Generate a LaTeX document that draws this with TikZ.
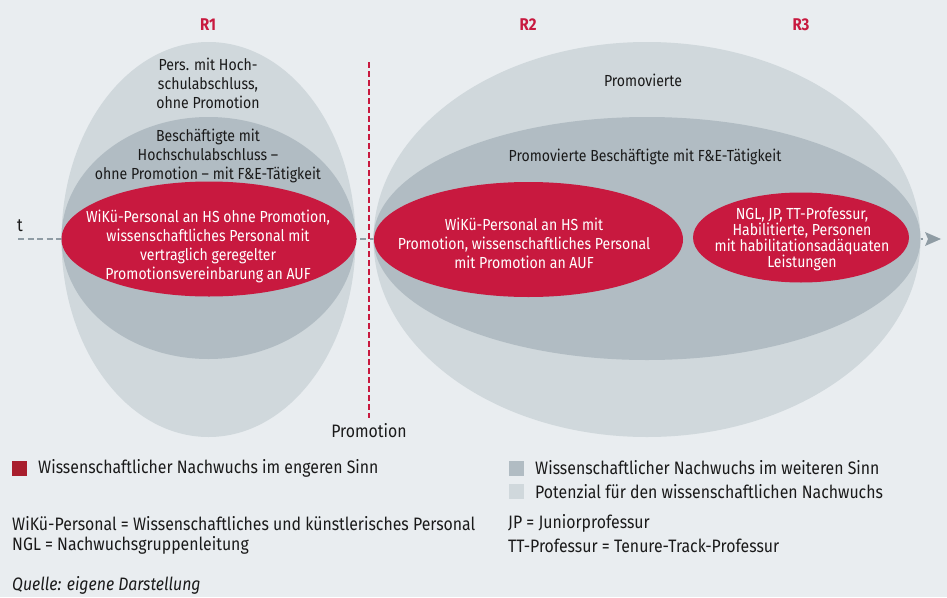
\documentclass[tikz,border=0pt]{standalone}
\usepackage{fontspec}
\setmainfont[FakeStretch=0.88]{Fira Sans}
\usetikzlibrary{shapes.geometric}
\definecolor{bgc}{HTML}{E9EDF0}
\definecolor{outerc}{HTML}{D0D8DC}
\definecolor{midc}{HTML}{B1BCC3}
\definecolor{redc}{HTML}{C8193F}
\definecolor{legred}{HTML}{A81E2D}
\definecolor{axisc}{HTML}{8F9CA4}
\definecolor{txtc}{HTML}{1A1A1A}
\tikzset{
  blob/.style={ellipse, inner sep=0pt, outer sep=0pt, draw=none},
  difftext/.style={font=\fontsize{16}{19}\selectfont, text=txtc, align=center, inner sep=0pt},
  redtext/.style={font=\fontsize{16}{19}\selectfont, text=white, align=center, inner sep=0pt},
  legtext/.style={font=\fontsize{18}{20}\selectfont, text=txtc, anchor=west, inner sep=0pt},
  rlabel/.style={font=\fontsize{17}{20}\selectfont\bfseries, text=redc, inner sep=0pt},
  legbox/.style={minimum size=15pt, inner sep=0pt, anchor=west}
}
\begin{document}
\begin{tikzpicture}[x=1pt, y=-1pt]
\fill[bgc] (0,0) rectangle (947,597);
\useasboundingbox (0,0) rectangle (947,597);
% axis
\coordinate (tstart) at (18,239);
\coordinate (tend) at (923,239);
\draw[axisc, line width=2.6pt, dash pattern=on 6pt off 3.5pt] (tstart) -- (tend);
\fill[axisc] (941,239) -- (925,232) -- (928,239) -- (925,246) -- cycle;
% left ellipses
\node[blob, fill=outerc, minimum width=294pt, minimum height=395pt] (L1) at (208.5,239.5) {};
\node[blob, fill=midc, minimum width=294pt, minimum height=242pt] (L2) at (208.5,238) {};
\node[blob, fill=redc, minimum width=295pt, minimum height=115pt] (L3) at (209,239) {};
% right ellipses
\node[blob, fill=outerc, minimum width=547pt, minimum height=395pt] (R1e) at (647,239.5) {};
\node[blob, fill=midc, minimum width=547pt, minimum height=243pt] (R2e) at (647,238.5) {};
\node[blob, fill=redc, minimum width=309pt, minimum height=115pt] (R3e) at (528.5,239.5) {};
\node[blob, fill=redc, minimum width=216pt, minimum height=90pt] (R4e) at (801,237.5) {};
% promotion line
\coordinate (ptop) at (369,62);
\coordinate (pbot) at (369,418);
\draw[redc, line width=1.6pt, dash pattern=on 6pt off 3pt] (ptop) -- (pbot);
\node[font=\fontsize{18}{20}\selectfont, text=txtc, inner sep=0pt] (prom) at (369,431) {Promotion};
\node[font=\fontsize{18}{20}\selectfont, text=txtc, inner sep=0pt] (tlab) at (20,226) {t};
% region labels
\node[rlabel] (r1) at (208,25) {R1};
\node[rlabel] (r2) at (528,25) {R2};
\node[rlabel] (r3) at (801,25) {R3};
% texts
\node[difftext] (tL1) at (208,83) {Pers. mit Hoch-\\schulabschluss,\\ohne Promotion};
\node[difftext] (tL2) at (208,156) {Beschäftigte mit\\Hochschulabschluss –\\ohne Promotion – mit F\&E-Tätigkeit};
\node[redtext] (tL3) at (208,246) {WiKü-Personal an HS ohne Promotion,\\wissenschaftliches Personal mit\\vertraglich geregelter\\Promotionsvereinbarung an AUF};
\node[difftext] (tR1) at (643,80) {Promovierte};
\node[difftext] (tR2) at (645,157) {Promovierte Beschäftigte mit F\&E-Tätigkeit};
\node[redtext] (tR3) at (524,243.5) {WiKü-Personal an HS mit\\Promotion, wissenschaftliches Personal\\mit Promotion an AUF};
\node[redtext, font=\fontsize{16}{16}\selectfont] (tR4) at (802,239.5) {NGL, JP, TT-Professur,\\Habilitierte, Personen\\mit habilitationsadäquaten\\Leistungen};
% legend
\node[legbox, fill=legred] (k1) at (12,468) {};
\node[legtext] (k1t) at (38,468) {Wissenschaftlicher Nachwuchs im engeren Sinn};
\node[legbox, fill=midc] (k2) at (509,468) {};
\node[legtext] (k2t) at (535,468) {Wissenschaftlicher Nachwuchs im weiteren Sinn};
\node[legbox, fill=outerc] (k3) at (509,491.5) {};
\node[legtext] (k3t) at (535,491.5) {Potenzial für den wissenschaftlichen Nachwuchs};
\node[legtext] (a1) at (12,523.5) {WiKü-Personal = Wissenschaftliches und künstlerisches Personal};
\node[legtext] (a2) at (12,545.5) {NGL = Nachwuchsgruppenleitung};
\node[legtext] (a3) at (508,523.5) {JP = Juniorprofessur};
\node[legtext] (a4) at (508,545.5) {TT-Professur = Tenure-Track-Professur};
\node[legtext, font=\fontsize{18}{20}\selectfont\itshape] (src) at (12,585) {Quelle: eigene Darstellung};
\end{tikzpicture}
\end{document}
